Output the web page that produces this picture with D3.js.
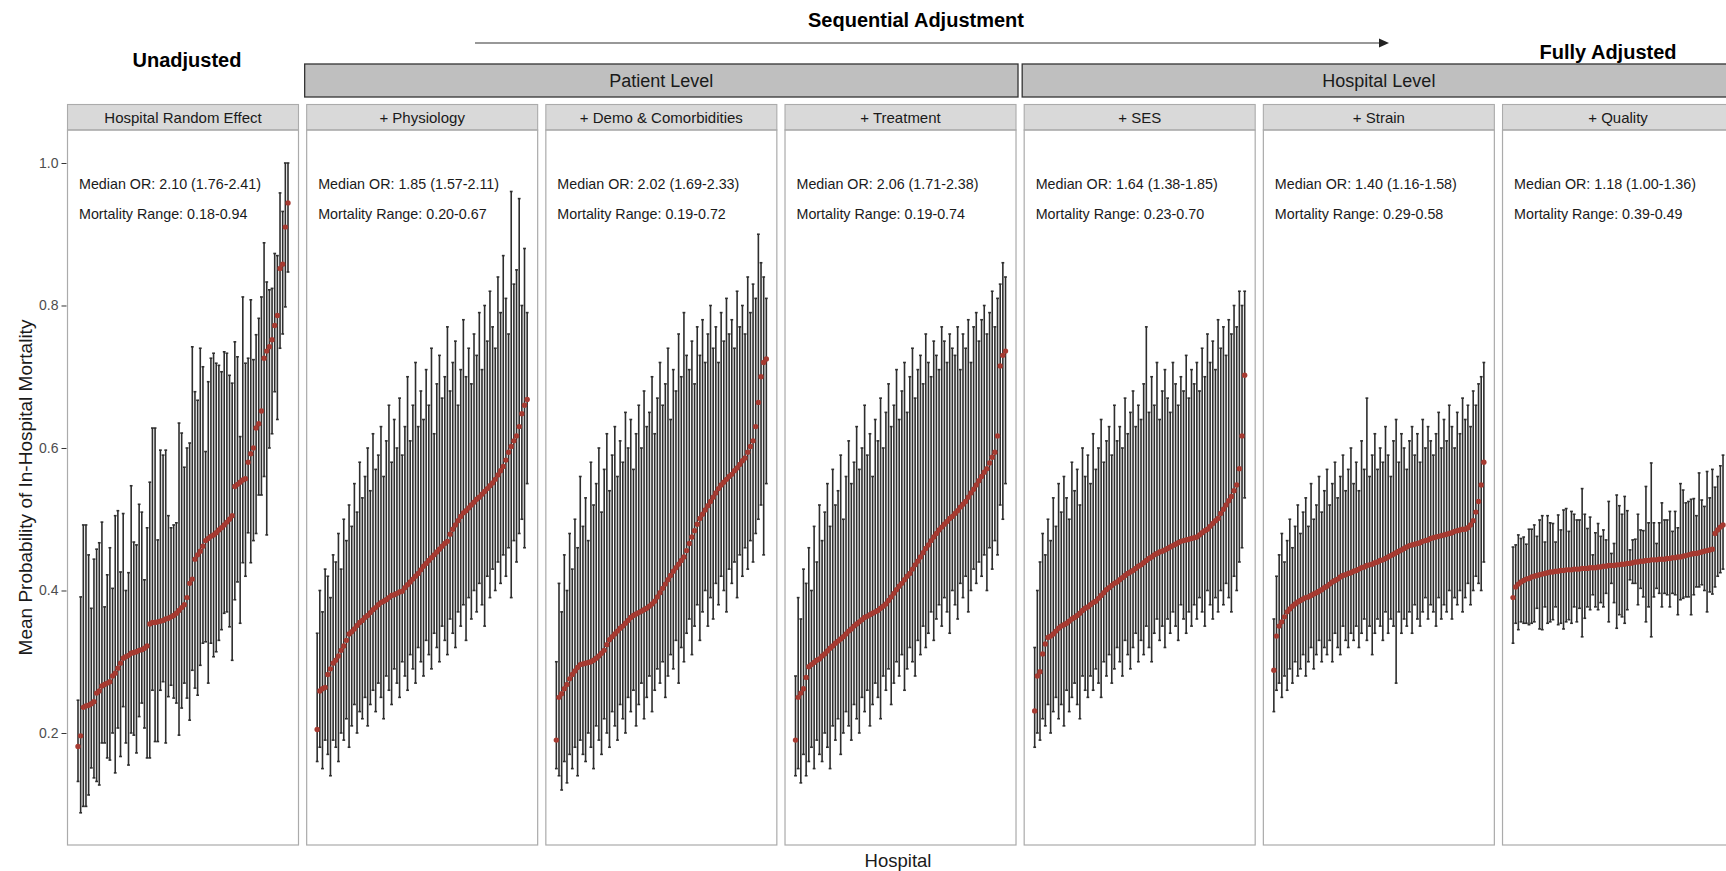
<!DOCTYPE html>
<html>
<head>
<meta charset="utf-8">
<script src="https://cdn.jsdelivr.net/npm/d3@7"></script>
<style>
  body { margin: 0; background: #fff; }
  text { font-family: "Liberation Sans", Arial, Helvetica, sans-serif; }
</style>
</head>
<body>
<div id="wrapper"></div>
<script>
// panel labels and annotations
const panelNames = ["Hospital Random Effect", "+ Physiology", "+ Demo & Comorbidities", "+ Treatment", "+ SES", "+ Strain", "+ Quality"]
const medianOR = ["2.10 (1.76-2.41)", "1.85 (1.57-2.11)", "2.02 (1.69-2.33)", "2.06 (1.71-2.38)", "1.64 (1.38-1.85)", "1.40 (1.16-1.58)", "1.18 (1.00-1.36)"]
const mortalityRange = ["0.18-0.94", "0.20-0.67", "0.19-0.72", "0.19-0.74", "0.23-0.70", "0.29-0.58", "0.39-0.49"]
const levelGroups = [{ label: "Patient Level", from: 1, to: 3 }, { label: "Hospital Level", from: 4, to: 6 }]
const yTicks = [0.2, 0.4, 0.6, 0.8, 1.0]

// hospital estimates, sorted by mean (one array per panel)
const mean1 = [.181,.196,.236,.238,.239,.241,.244,.256,.259,.266,.268,.270,.272,.280,.284,.291,.298,.305,.307,.309,.312,.313,.314,.316,.317,.319,.322,.353,.355,.355,.356,.357,.358,.360,.361,.363,.365,.368,.372,.376,.380,.390,.410,.416,.444,.450,.455,.462,.470,.473,.476,.478,.481,.485,.488,.492,.496,.500,.505,.546,.549,.552,.555,.557,.580,.592,.600,.628,.634,.652,.726,.736,.742,.752,.772,.786,.852,.858,.910,.944]
const lo1 = [.132,.088,.097,.097,.113,.151,.137,.132,.127,.186,.186,.165,.162,.200,.144,.207,.167,.237,.186,.155,.200,.197,.172,.223,.242,.207,.165,.165,.260,.188,.188,.260,.272,.186,.251,.267,.249,.242,.197,.235,.270,.249,.218,.288,.263,.253,.295,.326,.328,.270,.326,.307,.314,.330,.345,.368,.370,.349,.302,.387,.412,.354,.439,.420,.481,.439,.470,.480,.534,.534,.560,.478,.600,.620,.679,.640,.740,.760,.798,.847]
const hi1 = [.246,.391,.492,.492,.450,.375,.444,.458,.467,.496,.377,.422,.460,.403,.505,.512,.426,.508,.400,.425,.547,.468,.464,.521,.510,.415,.488,.552,.628,.628,.471,.597,.590,.597,.505,.488,.492,.495,.635,.621,.573,.600,.607,.742,.679,.667,.740,.714,.595,.693,.726,.733,.719,.716,.707,.735,.733,.702,.691,.749,.728,.616,.812,.719,.726,.808,.724,.759,.782,.812,.888,.833,.822,.824,.873,.870,.958,.932,1.0,1.0]

const mean2 = [.205,.259,.262,.264,.282,.290,.298,.302,.308,.316,.322,.330,.339,.342,.346,.351,.355,.358,.362,.365,.369,.373,.376,.380,.383,.385,.387,.390,.393,.394,.396,.398,.399,.404,.408,.412,.416,.420,.424,.429,.434,.438,.442,.446,.450,.454,.458,.462,.466,.469,.479,.486,.492,.498,.504,.509,.512,.516,.520,.524,.528,.531,.535,.539,.543,.547,.551,.556,.562,.568,.574,.583,.594,.602,.610,.617,.630,.648,.660,.668]
const lo2 = [.16,.18,.15,.19,.17,.14,.19,.18,.16,.20,.19,.22,.18,.21,.24,.20,.23,.22,.25,.21,.24,.26,.23,.27,.25,.22,.28,.26,.24,.29,.27,.25,.30,.28,.26,.31,.29,.27,.32,.30,.28,.33,.31,.29,.34,.32,.30,.35,.33,.31,.36,.34,.32,.37,.35,.38,.33,.39,.36,.40,.37,.41,.38,.35,.42,.39,.43,.40,.44,.41,.45,.42,.46,.39,.47,.44,.48,.50,.46,.55]
const hi2 = [.34,.40,.37,.43,.42,.39,.45,.44,.48,.43,.50,.47,.52,.49,.55,.51,.58,.53,.56,.60,.54,.62,.57,.59,.63,.56,.61,.66,.58,.64,.60,.67,.59,.63,.70,.61,.66,.72,.63,.68,.64,.71,.66,.74,.62,.69,.73,.67,.70,.77,.68,.72,.75,.66,.71,.78,.70,.74,.69,.76,.73,.79,.71,.80,.75,.82,.77,.74,.84,.79,.87,.81,.76,.96,.83,.85,.95,.80,.88,.79]

const mean3 = [.190,.250,.255,.262,.268,.276,.282,.287,.292,.296,.297,.298,.299,.300,.302,.305,.308,.312,.316,.324,.331,.335,.339,.343,.347,.350,.354,.358,.362,.365,.367,.369,.371,.373,.375,.378,.381,.385,.391,.397,.403,.409,.415,.421,.427,.432,.437,.442,.447,.456,.466,.475,.484,.493,.501,.507,.513,.519,.525,.531,.537,.543,.548,.552,.556,.560,.563,.568,.572,.577,.582,.586,.594,.602,.610,.630,.664,.700,.720,.725]
const lo3 = [.15,.14,.12,.16,.13,.17,.15,.18,.14,.19,.17,.16,.20,.18,.15,.21,.19,.17,.22,.20,.18,.23,.21,.19,.24,.22,.20,.25,.23,.26,.21,.24,.27,.22,.25,.28,.23,.26,.29,.27,.30,.25,.28,.31,.29,.33,.27,.32,.30,.34,.36,.31,.35,.38,.33,.37,.40,.35,.39,.36,.41,.38,.42,.40,.37,.43,.41,.44,.39,.45,.42,.46,.43,.47,.44,.48,.50,.52,.45,.55]
const hi3 = [.30,.41,.37,.45,.40,.48,.43,.50,.46,.56,.49,.53,.47,.58,.52,.55,.60,.51,.57,.62,.54,.59,.63,.56,.61,.58,.65,.60,.64,.57,.62,.66,.60,.68,.63,.65,.70,.62,.67,.72,.66,.69,.74,.64,.71,.68,.76,.70,.79,.73,.71,.75,.69,.77,.73,.78,.72,.76,.80,.74,.77,.72,.79,.75,.81,.76,.78,.74,.82,.77,.80,.76,.84,.79,.83,.81,.90,.86,.84,.81]

const mean4 = [.190,.250,.256,.262,.278,.293,.296,.299,.302,.304,.308,.311,.315,.319,.322,.326,.329,.332,.335,.339,.343,.346,.350,.353,.356,.359,.362,.364,.366,.368,.370,.372,.375,.378,.381,.386,.391,.396,.401,.406,.410,.415,.420,.424,.430,.436,.441,.447,.453,.459,.464,.470,.475,.480,.485,.489,.493,.497,.501,.504,.508,.512,.517,.521,.525,.531,.537,.542,.548,.554,.560,.566,.571,.579,.587,.594,.617,.715,.730,.736]
const lo4 = [.14,.15,.13,.17,.14,.16,.18,.15,.19,.17,.16,.20,.18,.15,.21,.19,.22,.17,.20,.23,.21,.19,.24,.22,.20,.25,.23,.26,.21,.24,.27,.25,.22,.28,.26,.29,.24,.27,.30,.28,.31,.26,.29,.32,.30,.28,.33,.31,.35,.32,.34,.37,.33,.36,.38,.35,.39,.37,.34,.40,.38,.36,.41,.39,.42,.37,.40,.43,.41,.44,.42,.45,.40,.46,.43,.47,.45,.52,.50,.55]
const hi4 = [.28,.39,.36,.43,.41,.46,.40,.49,.44,.52,.47,.51,.55,.49,.57,.52,.54,.59,.50,.56,.61,.55,.58,.63,.57,.60,.66,.59,.62,.56,.64,.61,.67,.60,.65,.69,.63,.66,.71,.64,.68,.72,.65,.70,.74,.67,.71,.73,.69,.76,.72,.70,.75,.73,.71,.77,.75,.72,.76,.74,.73,.77,.71,.76,.74,.78,.72,.77,.79,.75,.78,.80,.76,.79,.82,.77,.81,.83,.86,.84]

const mean5 = [.231,.280,.286,.311,.325,.334,.336,.339,.343,.347,.350,.352,.354,.357,.360,.362,.365,.368,.372,.375,.377,.380,.383,.385,.389,.393,.397,.401,.404,.407,.410,.412,.415,.418,.421,.424,.426,.428,.431,.434,.436,.439,.442,.445,.447,.450,.452,.454,.455,.457,.459,.461,.463,.465,.467,.469,.470,.471,.472,.473,.474,.475,.478,.481,.484,.486,.490,.494,.498,.501,.508,.514,.520,.526,.532,.540,.548,.571,.617,.702]
const lo5 = [.18,.20,.19,.22,.21,.24,.20,.23,.25,.22,.24,.21,.26,.23,.25,.27,.24,.22,.28,.26,.25,.28,.26,.29,.27,.25,.30,.28,.31,.27,.29,.32,.30,.28,.33,.31,.29,.32,.34,.30,.33,.31,.35,.32,.30,.34,.36,.33,.35,.32,.36,.34,.37,.35,.33,.38,.36,.34,.37,.35,.38,.36,.39,.37,.35,.40,.38,.36,.39,.37,.40,.38,.41,.39,.37,.42,.40,.44,.46,.53]
const hi5 = [.32,.40,.44,.48,.45,.50,.47,.53,.49,.55,.51,.56,.53,.50,.58,.54,.57,.52,.60,.56,.59,.55,.62,.57,.60,.64,.58,.61,.63,.59,.66,.61,.63,.60,.67,.62,.65,.68,.63,.66,.64,.69,.77,.65,.70,.66,.72,.64,.68,.71,.67,.65,.72,.69,.66,.70,.68,.73,.67,.71,.69,.72,.68,.74,.70,.76,.72,.75,.71,.78,.74,.77,.73,.78,.76,.80,.77,.82,.80,.82]

const mean6 = [.288,.336,.350,.356,.363,.370,.374,.378,.381,.384,.386,.388,.390,.391,.393,.395,.397,.399,.401,.404,.406,.409,.412,.414,.416,.419,.421,.422,.424,.425,.427,.428,.430,.432,.433,.435,.436,.437,.439,.440,.442,.443,.445,.447,.449,.451,.453,.455,.457,.459,.461,.463,.464,.465,.466,.467,.469,.470,.471,.473,.474,.475,.476,.477,.478,.479,.480,.481,.483,.484,.485,.486,.486,.488,.492,.498,.510,.525,.548,.580]
const lo6 = [.23,.26,.27,.25,.28,.26,.29,.27,.30,.28,.29,.31,.28,.30,.32,.29,.31,.33,.30,.32,.31,.33,.30,.34,.32,.31,.35,.33,.32,.34,.33,.35,.32,.34,.36,.33,.35,.31,.34,.36,.35,.33,.37,.34,.36,.35,.27,.37,.34,.36,.35,.37,.34,.38,.36,.35,.37,.39,.36,.38,.37,.35,.39,.36,.38,.37,.40,.36,.39,.38,.40,.37,.39,.41,.38,.40,.42,.41,.40,.44]
const hi6 = [.36,.42,.45,.48,.44,.47,.50,.46,.49,.52,.48,.51,.53,.49,.55,.50,.52,.56,.51,.54,.57,.52,.55,.58,.53,.56,.59,.54,.57,.60,.55,.58,.54,.61,.57,.67,.56,.59,.62,.57,.60,.58,.63,.59,.56,.61,.64,.58,.62,.60,.57,.61,.63,.59,.62,.58,.64,.60,.63,.61,.59,.62,.65,.60,.64,.61,.66,.63,.60,.65,.62,.67,.64,.66,.63,.68,.66,.69,.70,.72]

const mean7 = [.390,.405,.409,.412,.414,.416,.417,.419,.420,.421,.422,.423,.424,.425,.426,.426,.427,.427,.428,.428,.429,.429,.429,.430,.430,.430,.431,.431,.431,.432,.432,.432,.433,.433,.434,.434,.435,.435,.435,.436,.436,.437,.437,.438,.438,.439,.440,.440,.441,.441,.442,.442,.443,.443,.443,.444,.444,.444,.445,.445,.446,.446,.447,.447,.448,.449,.450,.451,.452,.452,.453,.454,.455,.456,.457,.458,.480,.485,.489,.492]
const lo7 = [.326,.354,.345,.356,.354,.354,.352,.354,.356,.375,.346,.345,.377,.354,.356,.359,.377,.352,.354,.346,.356,.359,.354,.377,.356,.375,.335,.361,.377,.373,.394,.377,.373,.383,.377,.396,.356,.410,.383,.347,.366,.363,.354,.373,.415,.410,.410,.380,.403,.391,.356,.377,.335,.391,.403,.396,.377,.396,.394,.377,.396,.394,.366,.387,.389,.391,.391,.366,.394,.405,.405,.408,.400,.370,.398,.395,.405,.420,.425,.430]
const hi7 = [.461,.464,.478,.473,.475,.465,.486,.486,.492,.476,.499,.505,.468,.505,.495,.494,.468,.506,.485,.513,.515,.483,.511,.507,.499,.499,.543,.507,.487,.503,.450,.481,.494,.476,.485,.471,.525,.452,.466,.534,.519,.507,.532,.512,.457,.471,.472,.507,.485,.484,.546,.495,.579,.495,.466,.495,.523,.499,.499,.511,.483,.511,.488,.550,.541,.523,.525,.528,.529,.505,.565,.527,.518,.567,.530,.570,.545,.560,.575,.590]

const panelData = [
  [mean1, lo1, hi1], [mean2, lo2, hi2], [mean3, lo3, hi3], [mean4, lo4, hi4],
  [mean5, lo5, hi5], [mean6, lo6, hi6], [mean7, lo7, hi7],
].map(([m, l, h]) => m.map((d, i) => ({ rank: i + 1, mean: d, lo: l[i], hi: h[i] })))

function drawChart() {

  // 1. Dimensions

  const dimensions = {
    width: 1726,
    height: 871,
    panelLeft: 67.5,
    panelStep: 239.17,
    panelWidth: 231,
    panelTop: 130,
    panelBottom: 845,
    stripTop: 104.5,
    levelTop: 64,
    levelBottom: 97,
  }

  // 2. Draw canvas

  const wrapper = d3.select("#wrapper")
    .append("svg")
      .attr("width", dimensions.width)
      .attr("height", dimensions.height)

  // 3. Scales

  const yScale = d3.scaleLinear()
    .domain([0.0428, 1.0463])
    .range([dimensions.panelBottom, dimensions.panelTop])

  const panelX = i => dimensions.panelLeft + i * dimensions.panelStep

  // 4. Titles

  wrapper.append("text")
      .attr("x", 916).attr("y", 27)
      .attr("text-anchor", "middle")
      .style("font-size", "20px").style("font-weight", "bold")
      .text("Sequential Adjustment")

  wrapper.append("line")
      .attr("x1", 475).attr("x2", 1380)
      .attr("y1", 43).attr("y2", 43)
      .attr("stroke", "#333").attr("stroke-width", 1.2)
  wrapper.append("path")
      .attr("d", "M1379,38.5 L1389,43 L1379,47.5 Z")
      .attr("fill", "#222")

  wrapper.append("text")
      .attr("x", 187).attr("y", 66.5)
      .attr("text-anchor", "middle")
      .style("font-size", "20px").style("font-weight", "bold")
      .text("Unadjusted")

  wrapper.append("text")
      .attr("x", 1608).attr("y", 59)
      .attr("text-anchor", "middle")
      .style("font-size", "20px").style("font-weight", "bold")
      .text("Fully Adjusted")

  // level strips
  levelGroups.forEach(g => {
    const x0 = panelX(g.from) - 2
    const x1 = panelX(g.to) + dimensions.panelWidth + 2
    wrapper.append("rect")
        .attr("x", x0).attr("y", dimensions.levelTop)
        .attr("width", x1 - x0).attr("height", dimensions.levelBottom - dimensions.levelTop)
        .attr("fill", "#bfbfbf").attr("stroke", "#333").attr("stroke-width", 1.3)
    wrapper.append("text")
        .attr("x", (x0 + x1) / 2).attr("y", (dimensions.levelTop + dimensions.levelBottom) / 2)
        .attr("dy", "0.35em")
        .attr("text-anchor", "middle")
        .attr("fill", "#1a1a1a")
        .style("font-size", "18px")
        .text(g.label)
  })

  // 5. Panels

  panelData.forEach((data, p) => {
    const left = panelX(p)
    const pad = dimensions.panelWidth * 0.05 / 1.1
    const xScale = d3.scaleLinear()
      .domain([1, data.length])
      .range([left + pad, left + dimensions.panelWidth - pad])

    const g = wrapper.append("g").attr("class", "panel")

    // strip
    g.append("rect")
        .attr("x", left).attr("y", dimensions.stripTop)
        .attr("width", dimensions.panelWidth).attr("height", dimensions.panelTop - dimensions.stripTop)
        .attr("fill", "#d9d9d9").attr("stroke", "#ababab").attr("stroke-width", 1.1)
    g.append("text")
        .attr("x", left + dimensions.panelWidth / 2)
        .attr("y", (dimensions.stripTop + dimensions.panelTop) / 2)
        .attr("dy", "0.35em")
        .attr("text-anchor", "middle")
        .attr("fill", "#1a1a1a")
        .style("font-size", "15px")
        .text(panelNames[p])

    // error bars
    const bars = g.append("g")
        .attr("stroke", "#2e2e2e")
        .attr("stroke-width", 1.6)
    bars.selectAll(".whisker")
      .data(data)
      .enter().append("line")
        .attr("class", "whisker")
        .attr("x1", d => xScale(d.rank)).attr("x2", d => xScale(d.rank))
        .attr("y1", d => yScale(d.lo)).attr("y2", d => yScale(d.hi))
    bars.selectAll(".cap-hi")
      .data(data)
      .enter().append("line")
        .attr("class", "cap-hi")
        .attr("x1", d => xScale(d.rank) - 1.4).attr("x2", d => xScale(d.rank) + 1.4)
        .attr("y1", d => yScale(d.hi)).attr("y2", d => yScale(d.hi))
    bars.selectAll(".cap-lo")
      .data(data)
      .enter().append("line")
        .attr("class", "cap-lo")
        .attr("x1", d => xScale(d.rank) - 1.4).attr("x2", d => xScale(d.rank) + 1.4)
        .attr("y1", d => yScale(d.lo)).attr("y2", d => yScale(d.lo))

    // means
    g.selectAll(".dot")
      .data(data)
      .enter().append("circle")
        .attr("class", "dot")
        .attr("cx", d => xScale(d.rank))
        .attr("cy", d => yScale(d.mean))
        .attr("r", 2.7)
        .attr("fill", "#a63a31")

    // annotations
    g.append("text")
        .attr("x", left + 11.5).attr("y", 189)
        .attr("fill", "#1a1a1a")
        .style("font-size", "14.3px")
        .text(`Median OR: ${medianOR[p]}`)
    g.append("text")
        .attr("x", left + 11.5).attr("y", 218.5)
        .attr("fill", "#1a1a1a")
        .style("font-size", "14.3px")
        .text(`Mortality Range: ${mortalityRange[p]}`)

    // panel border
    g.append("rect")
        .attr("x", left).attr("y", dimensions.panelTop)
        .attr("width", dimensions.panelWidth).attr("height", dimensions.panelBottom - dimensions.panelTop)
        .attr("fill", "none").attr("stroke", "#ababab").attr("stroke-width", 1.2)
  })

  // 6. Axes

  const yAxisGenerator = d3.axisLeft(yScale)
    .tickValues(yTicks)
    .tickFormat(d3.format(".1f"))
    .tickSize(5)
    .tickPadding(3)

  const yAxis = wrapper.append("g")
      .attr("transform", `translate(${dimensions.panelLeft - 1}, 0)`)
    .call(yAxisGenerator)
  yAxis.select(".domain").remove()
  yAxis.selectAll(".tick line").attr("stroke", "#333")
  yAxis.selectAll(".tick text")
      .attr("fill", "#4d4d4d")
      .style("font-size", "14px")
      .style("font-family", "\"Liberation Sans\", Arial, sans-serif")

  wrapper.append("text")
      .attr("transform", `translate(25, ${(dimensions.panelTop + dimensions.panelBottom) / 2}) rotate(-90)`)
      .attr("text-anchor", "middle")
      .attr("dy", "0.35em")
      .attr("fill", "#1a1a1a")
      .style("font-size", "19px")
      .text("Mean Probability of In-Hospital Mortality")

  wrapper.append("text")
      .attr("x", 898).attr("y", 867)
      .attr("text-anchor", "middle")
      .attr("fill", "#1a1a1a")
      .style("font-size", "18.5px")
      .text("Hospital")
}
drawChart()
</script>
</body>
</html>
